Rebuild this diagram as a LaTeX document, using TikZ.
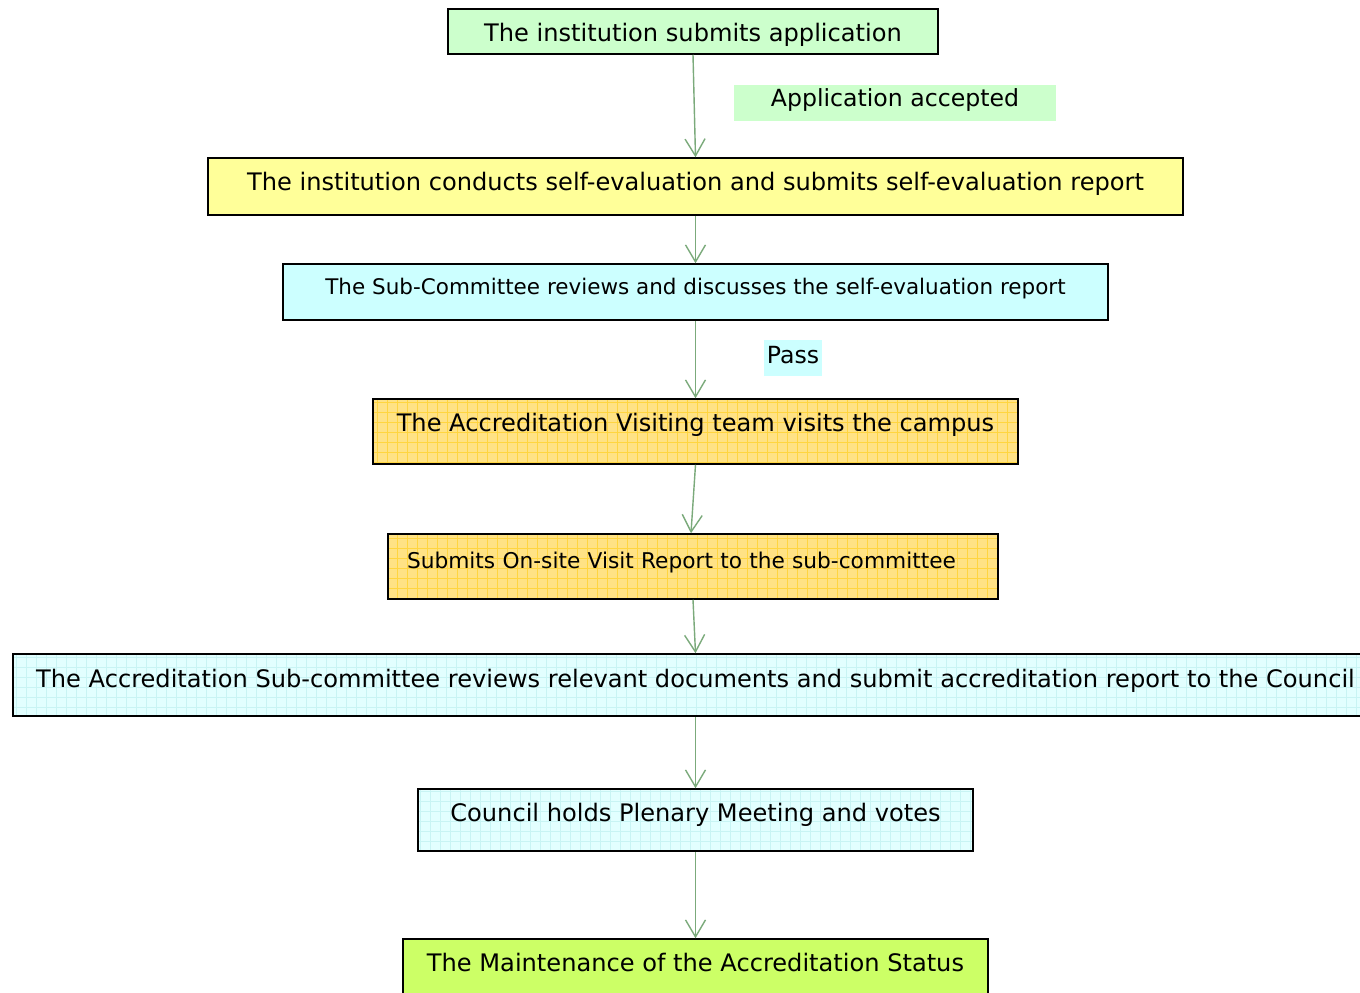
\documentclass[tikz,border=0pt]{standalone}
\usepackage{fontspec}
\setmainfont{DejaVu Sans}
\usetikzlibrary{arrows.meta}
\definecolor{cgreen}{HTML}{CCFFCC}
\definecolor{cyellow}{HTML}{FFFF99}
\definecolor{ccyan}{HTML}{CCFFFF}
\definecolor{cgold}{HTML}{FFE285}
\definecolor{cgoldgrid}{HTML}{FFD540}
\definecolor{clcyan}{HTML}{E2FFFF}
\definecolor{clcyangrid}{HTML}{C8F4F4}
\definecolor{clime}{HTML}{CCFF66}
\definecolor{carrow}{HTML}{7BAA7B}
\tikzset{
  box/.style={draw=black, line width=1.5pt, inner sep=0pt, font=\fontsize{24.1}{28}\selectfont},
  goldgrid/.style={fill=cgold, path picture={\draw[cgoldgrid, line width=0.5pt, xstep=10, ystep=-10] (path picture bounding box.south west) grid (path picture bounding box.north east);}},
  cyangrid/.style={fill=clcyan, path picture={\draw[clcyangrid, line width=0.5pt, xstep=10, ystep=-10] (path picture bounding box.south west) grid (path picture bounding box.north east);}},
  lbl/.style={inner sep=0pt, font=\fontsize{23.6}{28}\selectfont},
  flow/.style={draw=carrow, line width=1.4pt, -{Straight Barb[length=17pt,width=20pt,line width=1.4pt]}}
}
\begin{document}
\begin{tikzpicture}[x=1pt,y=-1pt]
\useasboundingbox[fill=white] (0,0) rectangle (1360,993);
\node[box, fill=cgreen, minimum width=490, text height=32.75, text depth=12.25] (b1) at (693,31.5) {The institution submits application};
\node[box, fill=cyellow, minimum width=975, text height=32.75, text depth=24.25] (b2) at (695.5,186.5) {The institution conducts self-evaluation and submits self-evaluation report};
\node[box, fill=ccyan, minimum width=825, font=\fontsize{21.5}{25}\selectfont, text height=30, text depth=26] (b3) at (695.5,292) {The Sub-Committee reviews and discusses the self-evaluation report};
\node[box, goldgrid, minimum width=645, text height=32.75, text depth=32.25] (b4) at (695.5,431.5) {The Accreditation Visiting team visits the campus};
\node[box, goldgrid, text width=572, align=left, inner xsep=19, text height=34.15, text depth=30.85, font=\fontsize{21.7}{25}\selectfont] (b5) at (693,566.5) {Submits On-site Visit Report to the sub-committee};
\node[box, cyangrid, minimum width=1365, text height=33.25, text depth=28.75] (b6) at (695.5,685) {The Accreditation Sub-committee reviews relevant documents and submit accreditation report to the Council};
\node[box, cyangrid, minimum width=555, text height=32.25, text depth=29.75] (b7) at (695.5,820) {Council holds Plenary Meeting and votes};
\node[box, fill=clime, minimum width=585, text height=32, text depth=38] (b8) at (695.5,974) {The Maintenance of the Accreditation Status};
\node[lbl, fill=cgreen, minimum width=322, text height=21.25, text depth=14.75] (l1) at (895,103) {Application accepted};
\node[lbl, fill=ccyan, minimum width=58, text height=23.75, text depth=12.25] (l2) at (793,358) {Pass};
\draw[flow] (b1.south) -- (b2.north);
\draw[flow] (b2.south) -- (b3.north);
\draw[flow] (b3.south) -- (b4.north);
\draw[flow] (b4.south) -- ([xshift=-2]b5.north);
\draw[flow] (b5.south) -- (b6.north);
\draw[flow] (b6.south) -- (b7.north);
\draw[flow] (b7.south) -- (b8.north);
\end{tikzpicture}
\end{document}
